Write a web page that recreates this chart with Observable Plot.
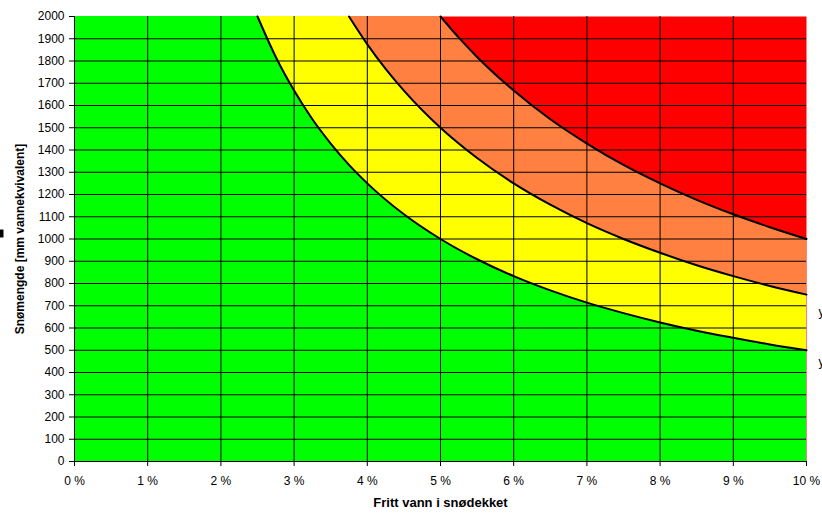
<!DOCTYPE html>
<html>
<head>
<meta charset="utf-8">
<script src="https://cdn.jsdelivr.net/npm/d3@7"></script>
<script src="https://cdn.jsdelivr.net/npm/@observablehq/plot@0.6"></script>
<style>
  html, body { margin: 0; padding: 0; background: #fff; }
  #chart { width: 822px; height: 515px; overflow: hidden; }
</style>
</head>
<body>
<div id="chart"></div>
<script>
// Tick values
const xTicks = [0, 1, 2, 3, 4, 5, 6, 7, 8, 9, 10];
const yTicks = [0, 100, 200, 300, 400, 500, 600, 700, 800, 900, 1000, 1100, 1200, 1300, 1400, 1500, 1600, 1700, 1800, 1900, 2000];
const xGrid = [1, 2, 3, 4, 5, 6, 7, 8, 9];
const yGrid = [100, 200, 300, 400, 500, 600, 700, 800, 900, 1000, 1100, 1200, 1300, 1400, 1500, 1600, 1700, 1800, 1900];

// Boundary curves (x in %, y in mm)
const greenX = [2.5, 2.75, 3, 3.25, 3.5, 3.75, 4, 4.5, 5, 5.5, 6, 6.5, 7, 7.5, 8, 8.5, 9, 9.5, 10];
const greenY = [2000, 1818, 1667, 1538, 1429, 1333, 1250, 1111, 1000, 909, 833, 769, 714, 667, 625, 588, 556, 526, 500];
const yellowX = [3.75, 4, 4.25, 4.5, 5, 5.5, 6, 6.5, 7, 7.5, 8, 8.5, 9, 9.5, 10];
const yellowY = [2000, 1875, 1765, 1667, 1500, 1364, 1250, 1154, 1071, 1000, 938, 882, 833, 789, 750];
const orangeX = [5, 5.25, 5.5, 6, 6.5, 7, 7.5, 8, 8.5, 9, 9.5, 10];
const orangeY = [2000, 1905, 1818, 1667, 1538, 1429, 1333, 1250, 1176, 1111, 1053, 1000];

// Zone colours
const zoneNames = ["orange", "yellow", "green"];
const zoneColors = ["#FF8040", "#FFFF00", "#00FF00"];
const topColor = "#FF0000";

// Cut-off labels on the right
const sideLabelY = [670, 445];
const sideLabelText = ["y = 7500x-1", "y = 5000x-1"];

const xLabel = "Fritt vann i snødekket";
const yLabel = "Snømengde [mm vannekvivalent]";

const yMax = 2000;
const curvesX = [orangeX, yellowX, greenX];
const curvesY = [orangeY, yellowY, greenY];

const zoneMarks = [];
zoneNames.forEach((name, k) => {
  const pts = curvesX[k].map((x, i) => ({x, y: curvesY[k][i]}));
  zoneMarks.push(
    Plot.rect([name], {x1: 0, x2: curvesX[k][0], y1: 0, y2: yMax, fill: zoneColors[k], insetRight: -1}),
    Plot.areaY(pts, {x: "x", y1: 0, y2: "y", fill: zoneColors[k], curve: "monotone-x"})
  );
});

const lineMarks = zoneNames.map((name, k) => {
  const pts = curvesX[k].map((x, i) => ({x, y: curvesY[k][i]}));
  return Plot.line(pts, {x: "x", y: "y", stroke: "black", strokeWidth: 2, curve: "monotone-x"});
});

const chart = Plot.plot({
  width: 822,
  height: 515,
  marginLeft: 74,
  marginRight: 16,
  marginTop: 16,
  marginBottom: 54,
  style: {fontFamily: "'Liberation Sans', Arial, sans-serif", fontSize: "12px", background: "#fff", color: "black", overflow: "visible"},
  x: {domain: [0, 10]},
  y: {domain: [0, yMax]},
  marks: [
    Plot.frame({fill: topColor, stroke: null}),
    ...zoneMarks,
    Plot.gridY(yGrid, {stroke: "black", strokeOpacity: 1, strokeWidth: 1}),
    Plot.gridX(xGrid, {stroke: "black", strokeOpacity: 1, strokeWidth: 1}),
    ...lineMarks,
    Plot.ruleX([0], {stroke: "black"}),
    Plot.ruleY([0], {stroke: "black"}),
    Plot.axisY({ticks: yTicks, tickFormat: d => String(d), tickSize: 5, tickPadding: 5, label: null}),
    Plot.axisX({ticks: xTicks, tickFormat: d => `${d} %`, tickSize: 5, tickPadding: 10, label: null}),
    Plot.text([xLabel], {frameAnchor: "bottom", dy: 41, lineAnchor: "middle", textAnchor: "middle", fontWeight: "bold", fontSize: 13}),
    Plot.text([yLabel], {frameAnchor: "left", dx: -54, rotate: -90, lineAnchor: "middle", textAnchor: "middle", fontWeight: "bold", fontSize: 12}),
    Plot.dot(["marker"], {frameAnchor: "left", dx: -75, dy: -5.5, symbol: "square", r: 4.5, fill: "black", stroke: null}),
    Plot.text(sideLabelText, {x: 10, y: (d, i) => sideLabelY[i], dx: 12, textAnchor: "start", fontSize: 12})
  ]
});
document.getElementById("chart").appendChild(chart);
</script>
</body>
</html>
